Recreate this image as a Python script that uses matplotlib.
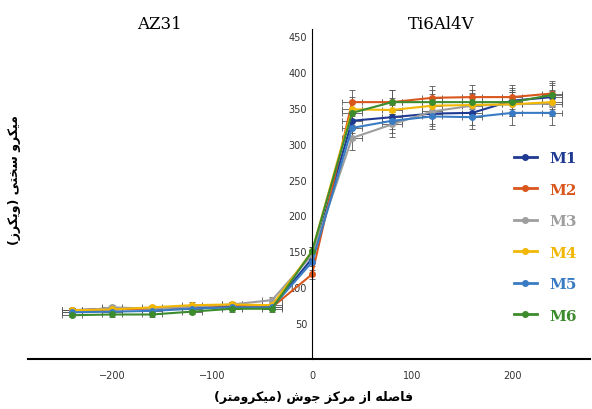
import matplotlib
matplotlib.use('Agg')
import matplotlib.pyplot as plt
from matplotlib.lines import Line2D

# Arabic/Persian presentation forms: isolated, final, initial, medial
FORMS = {
    'ا': ('\uFE8D', '\uFE8E', None, None), 'ب': ('\uFE8F', '\uFE90', '\uFE91', '\uFE92'),
    'ت': ('\uFE95', '\uFE96', '\uFE97', '\uFE98'), 'ج': ('\uFE9D', '\uFE9E', '\uFE9F', '\uFEA0'),
    'خ': ('\uFEA5', '\uFEA6', '\uFEA7', '\uFEA8'), 'د': ('\uFEA9', '\uFEAA', None, None),
    'ر': ('\uFEAD', '\uFEAE', None, None), 'ز': ('\uFEAF', '\uFEB0', None, None),
    'س': ('\uFEB1', '\uFEB2', '\uFEB3', '\uFEB4'), 'ش': ('\uFEB5', '\uFEB6', '\uFEB7', '\uFEB8'),
    'ص': ('\uFEB9', '\uFEBA', '\uFEBB', '\uFEBC'), 'ف': ('\uFED1', '\uFED2', '\uFED3', '\uFED4'),
    'ل': ('\uFEDD', '\uFEDE', '\uFEDF', '\uFEE0'), 'م': ('\uFEE1', '\uFEE2', '\uFEE3', '\uFEE4'),
    'ن': ('\uFEE5', '\uFEE6', '\uFEE7', '\uFEE8'), 'ه': ('\uFEE9', '\uFEEA', '\uFEEB', '\uFEEC'),
    'و': ('\uFEED', '\uFEEE', None, None), 'ک': ('\uFB8E', '\uFB8F', '\uFB90', '\uFB91'),
    'ی': ('\uFBFC', '\uFBFD', '\uFBFE', '\uFBFF'),
}


def shape(text):
    out = []
    for i, ch in enumerate(text):
        if ch not in FORMS:
            out.append(ch)
            continue
        prev = text[i - 1] if i > 0 else ''
        nxt = text[i + 1] if i + 1 < len(text) else ''
        join_prev = prev in FORMS and FORMS[prev][2] is not None
        join_next = nxt in FORMS and FORMS[ch][2] is not None
        iso, fin, ini, med = FORMS[ch]
        if join_prev and join_next:
            out.append(med)
        elif join_prev:
            out.append(fin)
        elif join_next:
            out.append(ini)
        else:
            out.append(iso)
    s = ''.join(out)[::-1]
    return s.translate(str.maketrans('()', ')('))


x = [-240, -200, -160, -120, -80, -40, 0, 40, 80, 120, 160, 200, 240]
m1 = [68, 70, 70, 72, 73, 72, 140, 332, 337, 342, 343, 360, 365]
m2 = [68, 69, 70, 73, 75, 72, 118, 358, 358, 364, 365, 365, 370]
m3 = [65, 72, 70, 73, 76, 82, 145, 308, 327, 345, 353, 355, 356]
m4 = [68, 69, 72, 75, 76, 75, 150, 348, 347, 353, 354, 355, 358]
m5 = [65, 66, 67, 70, 72, 72, 135, 322, 332, 338, 337, 343, 343]
m6 = [61, 62, 62, 66, 70, 70, 150, 343, 358, 358, 358, 358, 368]
yerr = [3, 3, 3, 4, 4, 4, 6, 17, 17, 17, 17, 17, 17]
xerr = [10, 10, 10, 10, 10, 10, 0, 10, 10, 10, 10, 10, 10]

names = ['M1', 'M2', 'M3', 'M4', 'M5', 'M6']
series = [m1, m2, m3, m4, m5, m6]
colors = ['#1F3A93', '#D9561C', '#9E9E9E', '#F2B705', '#3A7CC4', '#3C8C2E']

fig = plt.figure(figsize=(5.92, 4.10), dpi=100)
ax = fig.add_axes([0.047, 0.122, 0.95, 0.805])

for name, vals, c in zip(names, series, colors):
    ax.errorbar(x, vals, yerr=yerr, xerr=xerr, color=c, ecolor='#555555',
                elinewidth=0.6, capsize=2, capthick=0.6, lw=1.5,
                marker='o', ms=4)

ax.set_xlim(-284, 278)
ax.set_ylim(0, 460)
ax.spines['left'].set_position(('data', 0))
ax.spines['top'].set_visible(False)
ax.spines['right'].set_visible(False)
ax.spines['bottom'].set_linewidth(1.5)
ax.set_xticks([-200, -100, 0, 100, 200])
ax.set_yticks(range(50, 451, 50))
ax.tick_params(length=0, labelsize=7, colors='#333333')
ax.tick_params(axis='x', pad=8)

fig.text(0.27, 0.93, 'AZ31', fontsize=12, family='serif', ha='center')
fig.text(0.745, 0.93, 'Ti6Al4V', fontsize=12, family='serif', ha='center')
fig.text(0.025, 0.56, shape('میکرو سختی (ویکرز)'), rotation=90, fontsize=9,
         fontweight='bold', ha='center', va='center')
fig.text(0.53, 0.03, shape('فاصله از مرکز جوش (میکرومتر)'), fontsize=9,
         fontweight='bold', ha='center', va='center')

handles = [Line2D([], [], color=c, lw=2, marker='o', ms=4) for c in colors]
leg = ax.legend(handles, names, loc='center right', bbox_to_anchor=(1.0, 0.37),
                frameon=False, labelspacing=1.15, handlelength=1.5,
                prop={'family': 'serif', 'weight': 'bold', 'size': 11})
for t, c in zip(leg.get_texts(), colors):
    t.set_color(c)

fig.savefig('out.png', dpi=100, facecolor='white')
